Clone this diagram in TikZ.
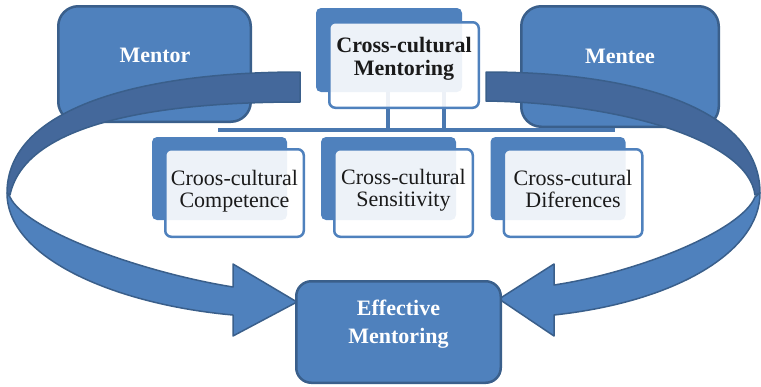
\documentclass[tikz,border=0pt]{standalone}
\usepackage{fontspec}
\setmainfont{Liberation Serif}
\definecolor{boxblue}{HTML}{4F81BD}
\definecolor{edgeblue}{HTML}{3A5F8B}
\definecolor{ribbonblue}{HTML}{44689B}
\definecolor{barblue}{HTML}{4A78B0}
\definecolor{inktext}{HTML}{1A1A1A}
\begin{document}
\begin{tikzpicture}[x=1pt,y=-1pt,
  bigbox/.style={draw=edgeblue, line width=2.5pt, fill=boxblue, rounded corners=20pt, inner sep=0pt},
  whitetext/.style={text=white, font=\fontsize{22}{28}\selectfont\bfseries, align=center, inner sep=0pt, anchor=base},
  backbox/.style={fill=boxblue, rounded corners=5pt, inner sep=0pt},
  frontbox/.style={draw=boxblue, line width=2.5pt, fill=white, fill opacity=0.9, rounded corners=6pt, inner sep=0pt},
  graytext/.style={text=inktext, font=\fontsize{22}{22}\selectfont, align=center, inner sep=0pt, anchor=base},
  bar/.style={draw=barblue, line width=4pt},
  ribbon/.style={draw=edgeblue, line width=1.5pt, line join=round}]
\useasboundingbox (0,0) rectangle (761,386);
\node[bigbox, minimum width=192.5pt, minimum height=115.5pt] (mentor) at (154.5,64) {};
\node[bigbox, minimum width=197.5pt, minimum height=120.5pt] (mentee) at (620,66.5) {};
\node[whitetext] (mentortxt) at (155,62) {Mentor};
\node[whitetext] (menteetxt) at (620,63) {Mentee};
\fill[boxblue, ribbon] (7,193) .. controls (7,260) and (120,305) .. (233,315) -- (233,336) -- (297,302) -- (233,264) -- (233,287) .. controls (140,272) and (25,230) .. (10,197) -- cycle;
\fill[ribbonblue, ribbon] (300,72) .. controls (140,72) and (7,108) .. (7,193) -- (10,195) .. controls (25,125) and (150,102) .. (300,102) -- cycle;
\fill[boxblue, ribbon] (760,193) .. controls (760,252) and (675,302) .. (554,315) -- (554,336) -- (499,299) -- (554,264) -- (554,285) .. controls (640,272) and (742,230) .. (755,197) -- cycle;
\fill[ribbonblue, ribbon] (486,72) .. controls (640,72) and (760,110) .. (760,193) -- (755,195) .. controls (748,140) and (620,103) .. (486,101) -- cycle;
\node[backbox, minimum width=146pt, minimum height=84pt] (mentback) at (389,50) {};
\coordinate (barL) at (218,130);
\coordinate (barR) at (615,130);
\coordinate (drop1) at (388,92);
\coordinate (drop2) at (444,92);
\draw[bar] (barL) -- (barR);
\draw[bar] (drop1) -- (drop1 |- barL);
\draw[bar] (drop2) -- (drop2 |- barL);
\node[frontbox, minimum width=149.5pt, minimum height=85.5pt] (mentfront) at (404,65) {};
\node[graytext, font=\fontsize{22}{23}\selectfont\bfseries] (menttxt) at (404,75) {Cross-cultural\\Mentoring};
\node[backbox, minimum width=135pt, minimum height=83pt] (compback) at (219.5,178.5) {};
\node[backbox, minimum width=135pt, minimum height=83pt] (sensback) at (388.5,178.5) {};
\node[backbox, minimum width=135pt, minimum height=83pt] (diffback) at (558,178.5) {};
\node[frontbox, minimum width=138.5pt, minimum height=87.5pt] (compfront) at (234.5,193) {};
\node[frontbox, minimum width=138.5pt, minimum height=87.5pt] (sensfront) at (403.5,193) {};
\node[frontbox, minimum width=138.5pt, minimum height=87.5pt] (difffront) at (573,193) {};
\node[graytext] (comptxt) at (234.5,207) {Croos-cultural\\Competence};
\node[graytext] (senstxt) at (403.5,206) {Cross-cultural\\Sensitivity};
\node[graytext] (difftxt) at (573,207) {Cross-cutural\\Diferences};
\node[bigbox, rounded corners=15pt, minimum width=204.5pt, minimum height=101.5pt] (effective) at (398.5,332) {};
\node[whitetext] (efftxt) at (398.5,343) {Effective\\Mentoring};
\end{tikzpicture}
\end{document}
